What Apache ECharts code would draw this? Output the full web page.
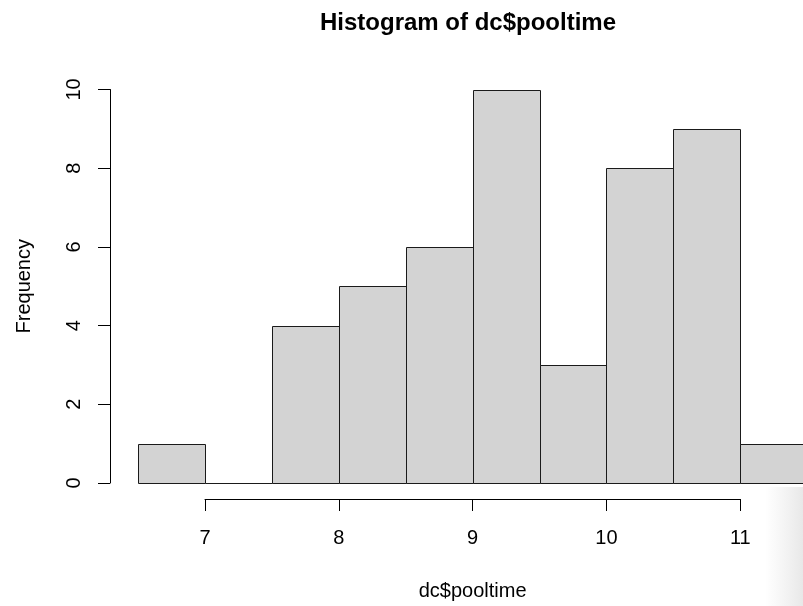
<!DOCTYPE html>
<html>
<head>
<meta charset="utf-8">
<script src="https://cdn.jsdelivr.net/npm/echarts@6/dist/echarts.min.js"></script>
<style>
html,body{margin:0;padding:0;background:#fff;}
#chart{width:803px;height:606px;}
</style>
</head>
<body>
<div id="chart"></div>
<script>
// Histogram bins (left edge, right edge) and counts
var binStarts = [6.5, 7.0, 7.5, 8.0, 8.5, 9.0, 9.5, 10.0, 10.5, 11.0];
var binEnds   = [7.0, 7.5, 8.0, 8.5, 9.0, 9.5, 10.0, 10.5, 11.0, 11.5];
var counts    = [1, 0, 4, 5, 6, 10, 3, 8, 9, 1];
var xTicks = [7, 8, 9, 10, 11];
var yTicks = [0, 2, 4, 6, 8, 10];
var titleText = 'Histogram of dc$pooltime';
var xName = 'dc$pooltime';
var yName = 'Frequency';

var FONT = "'Liberation Sans', Arial, Helvetica, sans-serif";
var data = binStarts.map(function (s, i) { return [s, binEnds[i], counts[i]]; });

var chart = echarts.init(document.getElementById('chart'), null, {renderer: 'canvas'});
var option = {
  animation: false,
  backgroundColor: '#ffffff',
  grid: [
    {left: 205, right: 62.7, top: 89.5, bottom: 121.5, containLabel: false}
  ],
  xAxis: [
    {
      gridIndex: 0, type: 'value', min: xTicks[0], max: xTicks[xTicks.length - 1], interval: 1,
      position: 'bottom', offset: 16,
      axisLine: {show: true, onZero: false, lineStyle: {color: '#000', width: 1}},
      axisTick: {show: true, length: 12, inside: false, lineStyle: {color: '#000', width: 1}},
      axisLabel: {show: true, margin: 29, color: '#000', fontSize: 20, fontFamily: FONT,
        formatter: function (v) { return String(v); }},
      splitLine: {show: false},
      name: xName, nameLocation: 'middle', nameGap: 82,
      nameTextStyle: {color: '#000', fontSize: 20, fontFamily: FONT}
    }
  ],
  yAxis: [
    {
      gridIndex: 0, type: 'value', min: yTicks[0], max: yTicks[yTicks.length - 1], interval: 2,
      position: 'left', offset: 95,
      axisLine: {show: true, onZero: false, lineStyle: {color: '#000', width: 1}},
      axisTick: {show: true, length: 12, inside: false, lineStyle: {color: '#000', width: 1}},
      axisLabel: {show: true, rotate: 90, margin: 26, color: '#000', fontSize: 20, fontFamily: FONT},
      splitLine: {show: false},
      name: yName, nameLocation: 'middle', nameGap: 76,
      nameTextStyle: {color: '#000', fontSize: 20, fontFamily: FONT}
    }
  ],
  series: [{
    type: 'custom',
    xAxisIndex: 0, yAxisIndex: 0,
    clip: false,
    data: data,
    renderItem: function (params, api) {
      var p0 = api.coord([api.value(0), api.value(2)]);
      var p1 = api.coord([api.value(1), 0]);
      var x0 = Math.round(p0[0]) + 0.5, x1 = Math.round(p1[0]) + 0.5;
      var y0 = Math.round(p0[1]) + 0.5, y1 = Math.round(p1[1]) + 0.5;
      if (y1 - y0 < 1) {
        return {
          type: 'line',
          shape: {x1: x0, y1: y1, x2: x1, y2: y1},
          style: {stroke: '#1a1a1a', lineWidth: 1}
        };
      }
      return {
        type: 'rect',
        shape: {x: x0, y: y0, width: x1 - x0, height: y1 - y0},
        style: {fill: '#d3d3d3', stroke: '#1a1a1a', lineWidth: 1}
      };
    }
  }],
  graphic: [
    {
      type: 'text', x: 468, y: 23,
      style: {text: titleText, align: 'center', verticalAlign: 'middle',
        font: 'bold 24px ' + FONT, fill: '#000'}
    },
    {
      type: 'rect', z: -1, silent: true,
      shape: {x: 765, y: 487, width: 38, height: 119},
      style: {fill: new echarts.graphic.LinearGradient(0, 0, 1, 0, [
        {offset: 0, color: 'rgba(235,235,235,0)'},
        {offset: 1, color: 'rgba(232,232,232,1)'}
      ])}
    }
  ]
};
chart.setOption(option);
</script>
</body>
</html>
